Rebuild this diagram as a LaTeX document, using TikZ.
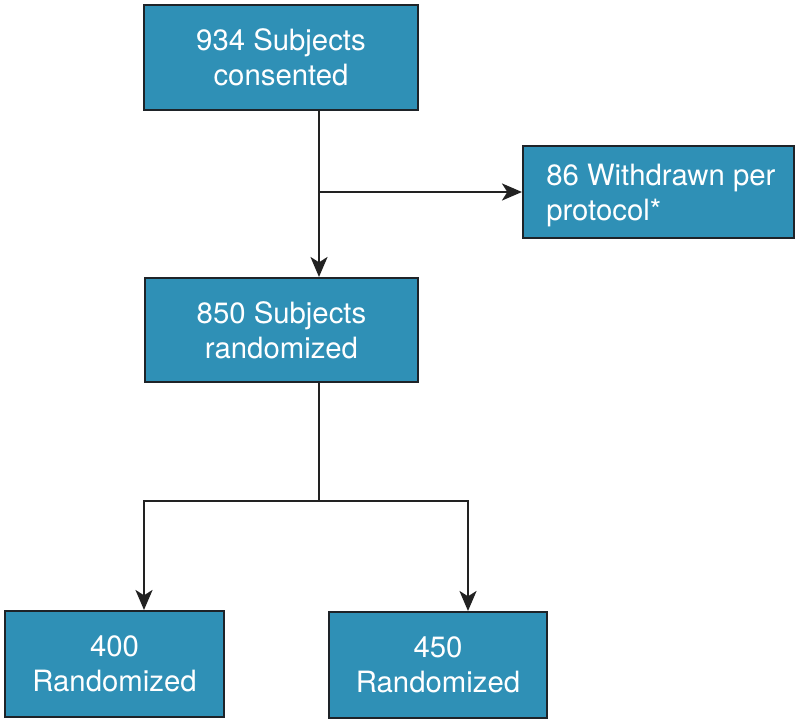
\documentclass[tikz,border=0pt]{standalone}
\usepackage{fontspec}
\setmainfont{TeX Gyre Heros}
\usetikzlibrary{arrows.meta}
\definecolor{boxfill}{HTML}{2F90B6}
\definecolor{boxline}{HTML}{1E2328}
\definecolor{conn}{HTML}{222222}
\begin{document}
\begin{tikzpicture}[x=0.75pt,y=-0.75pt,
  boxtext/.style={text=white,font=\fontsize{22pt}{26.25pt}\selectfont,inner sep=0pt},
  flowbox/.style={boxtext,draw=boxline,line width=1.5pt,fill=boxfill,align=center},
  conline/.style={draw=conn,line width=1.8pt},
  arr/.style={conline,-{Stealth[length=15pt,width=12.75pt,inset=4pt]}}]
\useasboundingbox (0,0) rectangle (800,723);
\node[flowbox,minimum width=274*0.75pt,minimum height=105*0.75pt] (b1) at (281,57.5) {934 Subjects\\consented};
\node[flowbox,minimum width=271*0.75pt,minimum height=92*0.75pt] (b2) at (658.5,192) {};
\node[boxtext,anchor=west,align=left] (b2t) at ([xshift=24*0.75pt,yshift=-4*0.75pt]b2.west) {86 Withdrawn per\\protocol*};
\node[flowbox,minimum width=273*0.75pt,minimum height=104*0.75pt] (b3) at (281.5,330) {850 Subjects\\randomized};
\node[flowbox,minimum width=219*0.75pt,minimum height=106*0.75pt] (b4) at (114.5,664) {400\\Randomized};
\node[flowbox,minimum width=218*0.75pt,minimum height=106*0.75pt] (b5) at (438,665) {450\\Randomized};
\coordinate (j1) at (319,192);
\coordinate (j2) at (319,501);
\coordinate (l4) at (144,501);
\coordinate (l5) at (468,501);
\draw[arr] (b1.south -| j1) -- (b3.north -| j1);
\draw[arr] (j1) -- (b2.west |- j1);
\draw[conline] (b3.south -| j2) -- (j2);
\draw[arr] (j2) -- (l4) -- (b4.north -| l4);
\draw[arr] (j2) -- (l5) -- (b5.north -| l5);
\end{tikzpicture}
\end{document}
